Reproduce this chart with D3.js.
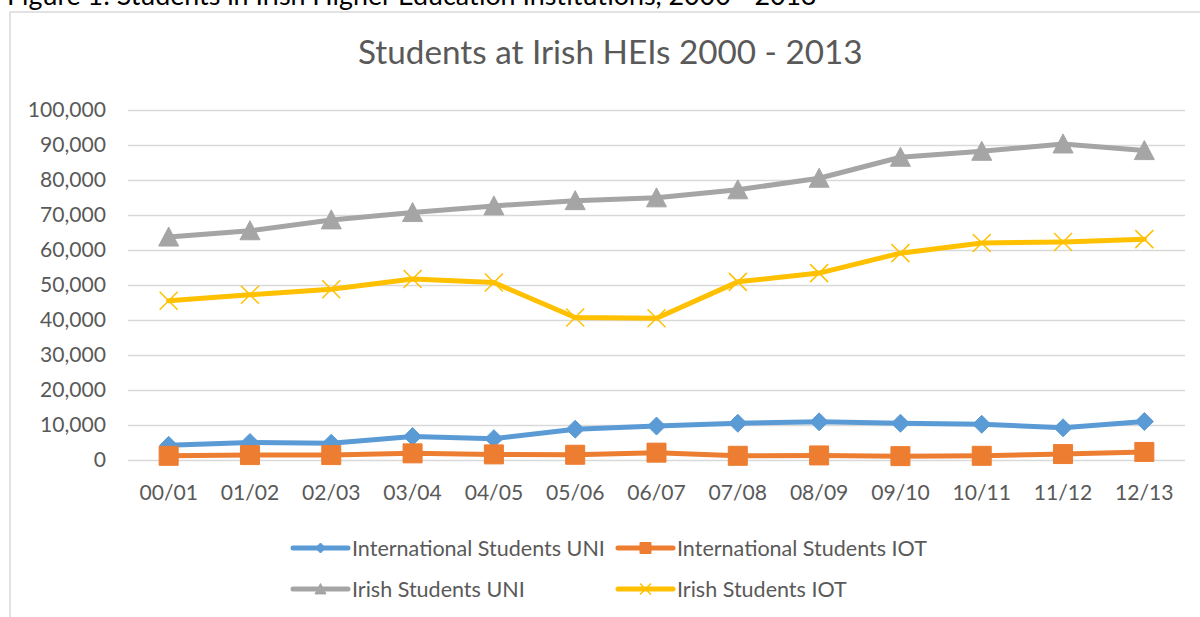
<!DOCTYPE html>
<html>
<head>
<meta charset="utf-8">
<script src="https://cdn.jsdelivr.net/npm/d3@7"></script>
<style>
  body { margin: 0; background: #fff; }
  svg { display: block; }
</style>
</head>
<body>
<svg id="chart" width="1200" height="617"></svg>
<script>
// data
const years = ["00/01","01/02","02/03","03/04","04/05","05/06","06/07","07/08","08/09","09/10","10/11","11/12","12/13"];
const intlUni  = [4200, 5000, 4800, 6700, 6100, 8800, 9700, 10500, 10900, 10500, 10200, 9200, 11000];
const intlIot  = [1200, 1400, 1400, 1900, 1600, 1500, 2100, 1200, 1300, 1100, 1200, 1700, 2300];
const irishUni = [63700, 65500, 68600, 70700, 72600, 74100, 74900, 77200, 80500, 86500, 88200, 90300, 88400];
const irishIot = [45500, 47200, 48800, 51700, 50700, 40700, 40500, 50900, 53400, 59100, 62000, 62300, 63100];
const yTicks = [0, 10000, 20000, 30000, 40000, 50000, 60000, 70000, 80000, 90000, 100000];
const seriesNames = ["International Students UNI", "International Students IOT", "Irish Students UNI", "Irish Students IOT"];
const seriesColors = ["#5B9BD5", "#ED7D31", "#A5A5A5", "#FFC000"];
const seriesMarkers = ["diamond", "square", "triangle", "x"];

const chartTitle = "Students at Irish HEIs 2000 - 2013";
const caption = "Figure 1: Students in Irish Higher Education Institutions, 2000 - 2013";

const font = "Lato, 'Open Sans', sans-serif";
const textColor = "#595959";
const gridColor = "#D9D9D9";

const svg = d3.select("#chart");

// shrink or grow a text so it covers the width seen in the picture
function fitFont(sel, width) {
  const w = sel.node().getComputedTextLength();
  const fs = parseFloat(sel.attr("font-size"));
  const nfs = fs * width / w;
  sel.attr("font-size", nfs);
  return nfs;
}

function markerPath(type, s) {
  const h = s / 2;
  if (type === "diamond") return `M0,${-h}L${h},0L0,${h}L${-h},0Z`;
  if (type === "square") return `M${-h},${-h}H${h}V${h}H${-h}Z`;
  if (type === "triangle") return `M0,${-h}L${h},${h * 0.9}L${-h},${h * 0.9}Z`;
  return `M${-h},${-h}L${h},${h}M${-h},${h}L${h},${-h}`;
}
const markerSize = { diamond: 18, square: 19, triangle: 20, x: 18 };
const legendMarkerSize = { diamond: 10, square: 11, triangle: 11, x: 11 };

// caption above the chart (cut off by the top of the picture)
const cap = svg.append("text")
  .attr("x", 7).attr("y", 5)
  .attr("font-family", font).attr("font-size", 22)
  .attr("fill", "#000")
  .text(caption);
fitFont(cap, 810);

// chart frame
svg.append("rect")
  .attr("x", 10).attr("y", 12)
  .attr("width", 1210).attr("height", 640)
  .attr("fill", "#fff")
  .attr("stroke", gridColor).attr("stroke-width", 1.5);

// title
const title = svg.append("text")
  .attr("x", 358).attr("y", 64)
  .attr("font-family", font).attr("font-size", 32)
  .attr("fill", textColor)
  .text(chartTitle);
fitFont(title, 505);

const x = d3.scaleBand().domain(years).range([128, 1185]);
const y = d3.scaleLinear().domain([0, 100000]).range([460, 110]);

// gridlines
svg.append("g")
  .attr("transform", "translate(128,0)")
  .call(d3.axisLeft(y).tickValues(yTicks).tickSize(-(1185 - 128)).tickFormat(""))
  .call(g => g.select(".domain").remove())
  .call(g => g.selectAll("line").attr("stroke", gridColor).attr("stroke-width", 1.5));

// y axis labels
const yAxis = svg.append("g")
  .attr("transform", "translate(128,0)")
  .call(d3.axisLeft(y).tickValues(yTicks).tickSize(0).tickPadding(22).tickFormat(d3.format(",")))
  .call(g => g.select(".domain").remove());
yAxis.selectAll("text")
  .attr("font-family", font).attr("font-size", 23)
  .attr("fill", textColor);
const probe = yAxis.selectAll("text").filter(d => d === 10000);
const tickFs = fitFont(probe, 66);
yAxis.selectAll("text").attr("font-size", tickFs);

// x axis labels
const xAxis = svg.append("g")
  .attr("transform", "translate(0,460)")
  .call(d3.axisBottom(x).tickSize(0))
  .call(g => g.select(".domain").remove());
xAxis.selectAll("text")
  .attr("y", 40).attr("dy", 0)
  .attr("font-family", font).attr("font-size", tickFs)
  .attr("fill", textColor);

// series
const seriesValues = [intlUni, intlIot, irishUni, irishIot];
const line = d3.line()
  .x((d, i) => x(years[i]) + x.bandwidth() / 2)
  .y(d => y(d));

seriesValues.forEach((vals, k) => {
  const color = seriesColors[k];
  const mk = seriesMarkers[k];
  svg.append("path")
    .datum(vals)
    .attr("d", line)
    .attr("fill", "none")
    .attr("stroke", color)
    .attr("stroke-width", 5)
    .attr("stroke-linejoin", "round")
    .attr("stroke-linecap", "round");

  svg.append("g").selectAll("path")
    .data(vals)
    .join("path")
    .attr("transform", (d, i) => `translate(${x(years[i]) + x.bandwidth() / 2},${y(d)})`)
    .attr("d", markerPath(mk, markerSize[mk]))
    .attr("fill", mk === "x" ? "none" : color)
    .attr("stroke", color)
    .attr("stroke-width", mk === "x" ? 1.5 : 1);
});

// legend
const legendPos = [[293, 548], [618, 548], [293, 589], [618, 589]];
const legend = svg.append("g");
let legendFs = null;
seriesNames.forEach((name, k) => {
  const [lx, ly] = legendPos[k];
  const mk = seriesMarkers[k];
  const item = legend.append("g").attr("transform", `translate(${lx},${ly})`);
  item.append("line")
    .attr("x1", 0).attr("x2", 55)
    .attr("stroke", seriesColors[k]).attr("stroke-width", 5)
    .attr("stroke-linecap", "round");
  item.append("path")
    .attr("transform", "translate(27.5,0)")
    .attr("d", markerPath(mk, legendMarkerSize[mk]))
    .attr("fill", mk === "x" ? "none" : seriesColors[k])
    .attr("stroke", seriesColors[k])
    .attr("stroke-width", mk === "x" ? 1.5 : 1);
  const t = item.append("text")
    .attr("x", 59).attr("y", 0).attr("dy", "0.35em")
    .attr("font-family", font).attr("font-size", 24)
    .attr("fill", textColor)
    .text(name);
  if (k === 0) legendFs = fitFont(t, 253);
  else t.attr("font-size", legendFs);
});
</script>
</body>
</html>
